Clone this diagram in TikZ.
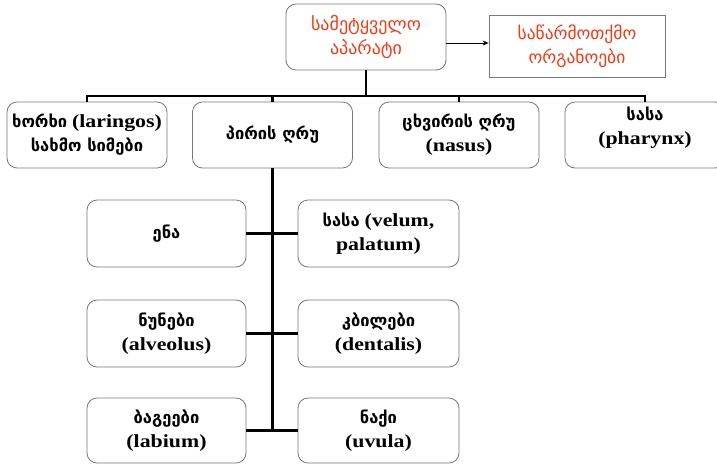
\documentclass[tikz,border=0pt]{standalone}
\usepackage{fontspec}
\usetikzlibrary{arrows.meta}
\setmainfont[FakeStretch=1.18]{Liberation Serif}
\newfontfamily\geo{DejaVu Sans}
\newcommand\ka[1]{{\geo\bfseries #1}}
\newcommand\kr[1]{{\geo #1}}
\newcommand\la[1]{{\fontsize{18.5}{24}\selectfont\bfseries #1}}
\definecolor{redtxt}{RGB}{250,55,20}
\definecolor{boxline}{RGB}{120,120,120}
\begin{document}
\begin{tikzpicture}[x=1pt,y=-1pt,
  box/.style={draw=boxline, line width=0.8pt, rounded corners=10pt, align=center,
    inner sep=0pt, minimum width=160pt, minimum height=66pt,
    font=\fontsize{16.5}{24}\selectfont},
  sqbox/.style={draw=boxline, line width=0.8pt, align=center, inner sep=0pt,
    minimum width=176pt, minimum height=62pt, font=\fontsize{17.5}{24}\selectfont},
  conn/.style={line width=2.2pt, black},
  arr/.style={line width=0.8pt, black, -{Stealth[length=6pt,width=5pt]}}]
\useasboundingbox (0,0) rectangle (717,464);
\clip (0,0) rectangle (717,464);
% top
\node[box, text=redtxt, font=\fontsize{18}{24}\selectfont] (top) at (366,37) {\kr{სამეტყველო}\\\kr{აპარატი}};
\node[sqbox, text=redtxt] (org) at (577,46) {\kr{საწარმოთქმო}\\\kr{ორგანოები}};
\coordinate (a1) at (446,43);
\draw[arr] (a1) -- (a1 -| org.west);
% row 1
\node[box] (b1) at (87,135) {\ka{ხორხი} \la{(laringos)}\\\ka{სახმო სიმები}};
\node[box] (b2) at (272.5,135) {\ka{პირის ღრუ}};
\node[box] (b3) at (459,135) {\ka{ცხვირის ღრუ}\\\la{(nasus)}};
\node[box] (b4) at (645,135) {\ka{სასა}\\\la{(pharynx)}\\[-6pt]\mbox{}};
\coordinate (bus) at (366,96);
\draw[conn] (top.south) -- (bus);
\draw[conn] (b1.north) -- (b1.north |- bus) -- (b4.north |- bus) -- (b4.north);
\draw[conn] (b2.north) -- (b2.north |- bus);
\draw[conn] (b3.north) -- (b3.north |- bus);
% column
\node[box, minimum width=159pt, minimum height=67pt] (l1) at (166.5,233.5) {\ka{ენა}};
\node[box, minimum width=161pt, minimum height=67pt] (r1) at (378.5,233.5) {\ka{სასა} \la{(velum,}\\\la{palatum)}};
\node[box, minimum width=159pt, minimum height=67pt] (l2) at (166.5,333.5) {\ka{ნუნები}\\\la{(alveolus)}};
\node[box, minimum width=161pt, minimum height=67pt] (r2) at (378.5,333.5) {\ka{კბილები}\\\la{(dentalis)}};
\node[box, minimum width=159pt, minimum height=65pt] (l3) at (166.5,430.5) {\ka{ბაგეები}\\\la{(labium)}};
\node[box, minimum width=161pt, minimum height=65pt] (r3) at (378.5,430.5) {\ka{ნაქი}\\\la{(uvula)}};
\coordinate (vend) at (272.5,431);
\draw[conn] (b2.south) -- (vend);
\draw[conn] (l1.east) -- (r1.west);
\draw[conn] (l2.east) -- (r2.west);
\draw[conn] (l3.east) -- (r3.west);
\end{tikzpicture}
\end{document}
